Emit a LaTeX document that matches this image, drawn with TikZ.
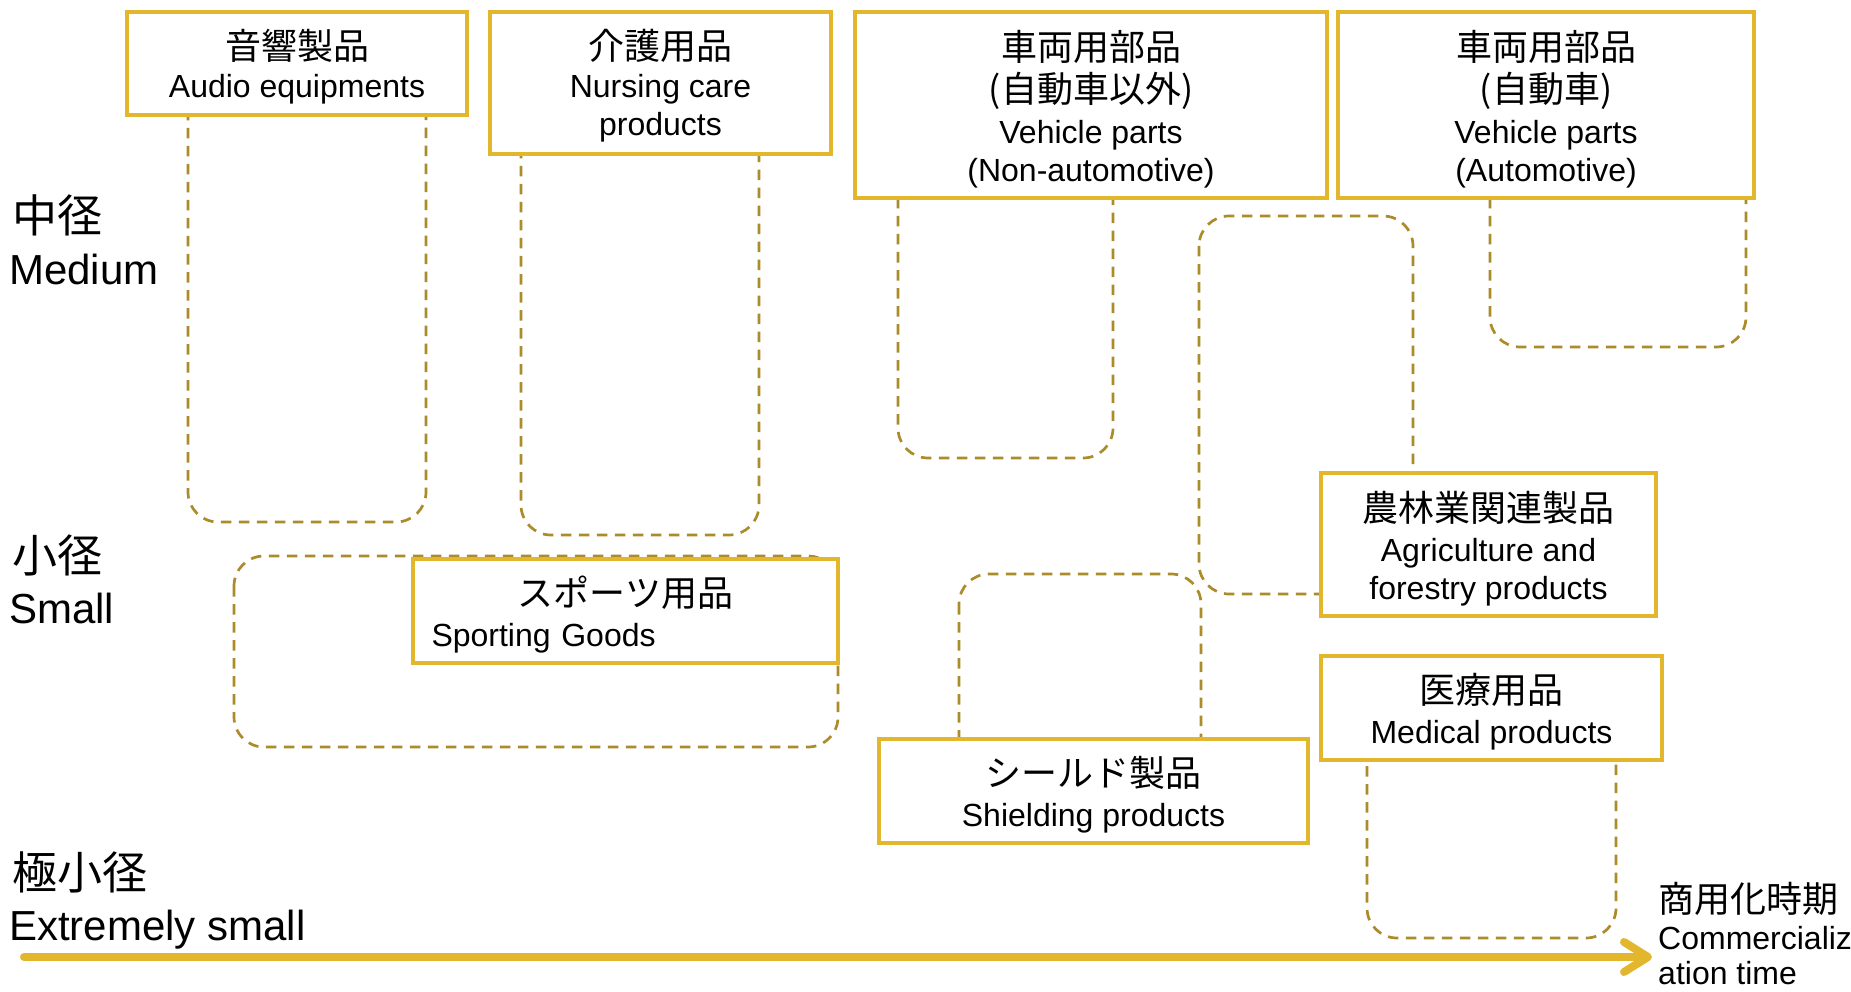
\documentclass[tikz,border=0pt]{standalone}
\usepackage{fontspec}
\setmainfont{Liberation Sans}
\newfontfamily\jpfont{Noto Sans CJK JP}
\usetikzlibrary{arrows.meta}
\definecolor{gold}{RGB}{226,183,46}
\definecolor{dashgold}{RGB}{171,139,42}
\newcommand\JB[1]{{\jpfont\fontsize{36}{38}\selectfont #1}}
\newcommand\JL[1]{{\jpfont\fontsize{45}{50}\selectfont #1}}
\begin{document}
\begin{tikzpicture}[x=1pt,y=-1pt,
  box/.style={draw=gold, line width=3.75pt, fill=white, rectangle, inner sep=0pt},
  btext/.style={inner sep=0pt, align=center, yshift=-4pt, font=\fontsize{32}{38}\selectfont},
  region/.style={draw=dashgold, line width=2.7pt, dash pattern=on 10.5pt off 7.5pt,
    rounded corners=30pt},
  lbl/.style={inner sep=0pt, anchor=base west, font=\fontsize{42}{48}\selectfont},
  rlbl/.style={inner sep=0pt, anchor=base west, font=\fontsize{32}{38}\selectfont},
  axis/.style={draw=gold, line width=8pt, line cap=round,
    -{Straight Barb[length=24pt,width=30pt,round]}}]
\useasboundingbox (0,0) rectangle (1851,992);
% dashed regions
\draw[region] (188,80) rectangle (426,522);
\draw[region] (521,100) rectangle (759,535);
\draw[region] (898,150) rectangle (1113,458);
\draw[region] (1490,150) rectangle (1746,347);
\draw[region] (1199,216) rectangle (1413,594);
\draw[region] (959,574) rectangle (1201,800);
\draw[region] (1367,700) rectangle (1616,938);
\draw[region] (234,556) rectangle (838,747);
% boxes
\node[box, minimum width=340pt, minimum height=103pt] (audio) at (297,63.5) {};
\node[btext, yshift=1pt] (audiot) at (audio) {\JB{音響製品}\\[0pt]Audio equipments};
\node[box, minimum width=341pt, minimum height=142pt] (nursing) at (660.5,83) {};
\node[btext, yshift=1.5pt] (nursingt) at (nursing) {\JB{介護用品}\\[0pt]Nursing care\\products};
\node[box, minimum width=472pt, minimum height=186pt] (vehn) at (1091,105) {};
\node[btext] (vehnt) at (vehn) {\JB{車両用部品}\\[4.5pt]\JB{(自動車以外)}\\[3pt]Vehicle parts\\(Non-automotive)};
\node[box, minimum width=416pt, minimum height=186pt] (veha) at (1546,105) {};
\node[btext] (vehat) at (veha) {\JB{車両用部品}\\[4.5pt]\JB{(自動車)}\\[3pt]Vehicle parts\\(Automotive)};
\node[box, minimum width=335pt, minimum height=143pt] (agri) at (1488.5,544.5) {};
\node[btext] (agrit) at (agri) {\JB{農林業関連製品}\\[2pt]Agriculture and\\forestry products};
\node[box, minimum width=341pt, minimum height=104pt] (medical) at (1491.5,708) {};
\node[btext] (medicalt) at (medical) {\JB{医療用品}\\[2pt]Medical products};
\node[box, minimum width=429pt, minimum height=104pt] (shield) at (1093.5,791) {};
\node[btext] (shieldt) at (shield) {\JB{シールド製品}\\[2pt]Shielding products};
\node[box, minimum width=425pt, minimum height=104pt] (sport) at (625.5,611) {};
\node[btext, text width=388pt, align=left] (sportt) at (sport)
  {\makebox[388pt][c]{\JB{スポーツ用品}}\\[2pt]Sporting Goods};
% axis
\coordinate (ax1) at (24,957);
\coordinate (ax2) at (1652,957);
\draw[axis] (ax1) -- (ax2);
% left labels
\node[lbl] (medj) at (12,233) {\JL{中径}};
\node[lbl] (mede) at (9,284) {Medium};
\node[lbl] (smj) at (12,572) {\JL{小径}};
\node[lbl] (sme) at (9,623) {Small};
\node[lbl] (exj) at (12,889) {\JL{極小径}};
\node[lbl] (exe) at (9,940) {Extremely small};
% right label
\node[rlbl] (timej) at (1658,912) {\JB{商用化時期}};
\node[rlbl] (time1) at (1658,949) {Commercializ};
\node[rlbl] (time2) at (1658,984) {ation time};
\end{tikzpicture}
\end{document}
